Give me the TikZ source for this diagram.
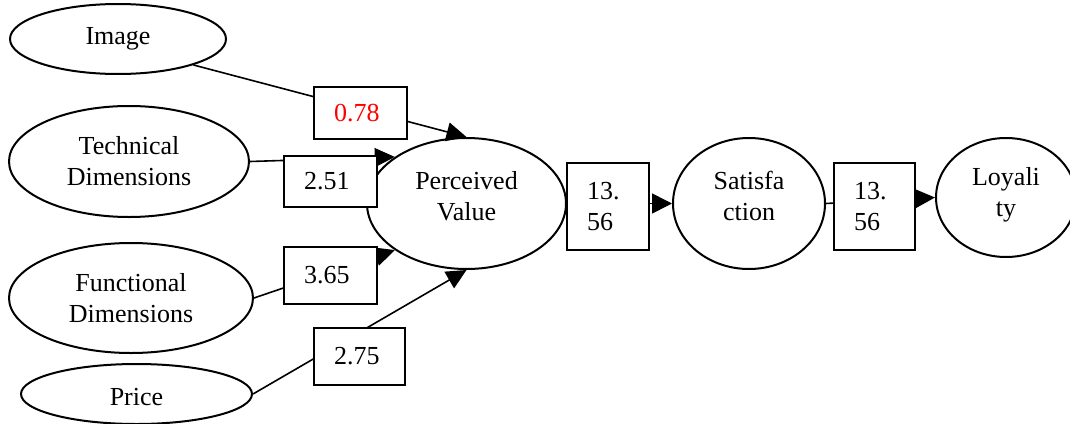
\documentclass[tikz,border=0pt]{standalone}
\usepackage{fontspec}
\setmainfont{Liberation Serif}
\usetikzlibrary{shapes.geometric,arrows.meta}
\tikzset{
  oval/.style={ellipse,draw,line width=1pt,inner sep=0pt,align=center},
  valbox/.style={rectangle,draw,fill=white,line width=1pt,inner xsep=10pt,inner ysep=0pt,align=left},
  conn/.style={line width=0.8pt,-{Triangle[length=10pt,width=9.5pt]}}
}
\begin{document}
\begin{tikzpicture}[x=0.5pt,y=-0.5pt,font=\fontsize{13}{15.5}\selectfont]
\useasboundingbox (0,0) rectangle (1070,423);
\fill[white] (0,0) rectangle (1070,423);
\clip (0,0) rectangle (1070,423);
% ellipses
\node[oval,minimum width=108pt,minimum height=35pt] (img) at (118,39) {Image};
\node[oval,minimum width=120pt,minimum height=55.5pt] (tech) at (129,161.5) {Technical\\Dimensions};
\node[oval,minimum width=122pt,minimum height=55pt] (func) at (131,298) {Functional\\Dimensions};
\node[oval,minimum width=115.5pt,minimum height=30pt] (price) at (136.5,394) {};
\node at ([yshift=-1.5pt]price.center) {Price};
\node[oval,minimum width=99.5pt,minimum height=65.5pt] (pv) at (466.5,203.5) {};
\node[align=center] (pvt) at ([yshift=3.5pt]pv.center) {Perceived\\Value};
\node[oval,minimum width=76pt,minimum height=65.5pt] (sat) at (749,203.5) {};
\node[align=center] (satt) at ([yshift=4pt]sat.center) {Satisfa\\ction};
\node[oval,minimum width=70pt,minimum height=59.5pt] (loy) at (1006,197.5) {};
\node[align=center] (loyt) at ([yshift=1.5pt]loy.center) {Loyali\\ty};
% connectors
\draw[conn] (img.-19) -- (pv.north);
\draw[conn] (tech.east) -- (pv.147);
\draw[conn] (func.east) -- (pv.213);
\draw[conn] (price.east) -- (pv.south);
\draw[conn,-{Triangle[length=10pt,width=10pt]}] (pv.east) -- (sat.west);
\draw[conn,-{Triangle[length=10.5pt,width=10pt]}] (sat.east) -- (loy.west);
% value boxes
\node[valbox,text width=26.5pt,minimum height=26pt,text=red] (b1) at (360.5,113) {0.78};
\node[valbox,text width=26.5pt,minimum height=25.5pt] (b2) at (330.5,181.5) {2.51};
\node[valbox,text width=26.5pt,minimum height=28.5pt] (b3) at (330.5,275.5) {3.65};
\node[valbox,text width=25.5pt,minimum height=28.5pt] (b4) at (359.5,356.5) {2.75};
\node[valbox,text width=20.75pt,minimum height=43.5pt] (b5) at (607.75,206.5) {13.\\56};
\node[valbox,text width=20.3pt,minimum height=43.5pt] (b6) at (874.3,206.5) {13.\\56};
\end{tikzpicture}
\end{document}
